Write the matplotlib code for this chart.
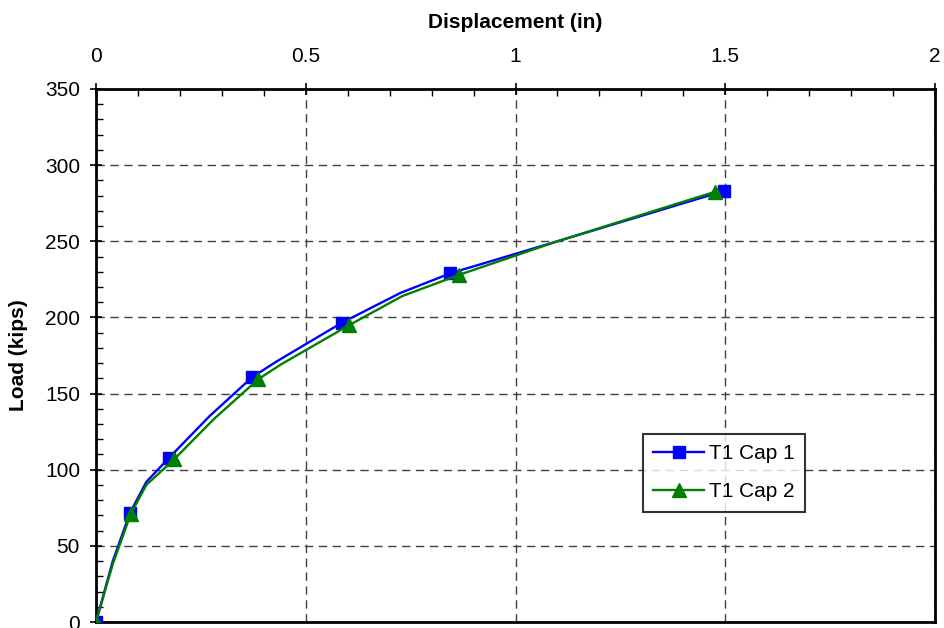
import matplotlib
matplotlib.use("Agg")
import matplotlib.pyplot as plt
from matplotlib.ticker import MultipleLocator

plt.rcParams['font.family'] = ['Liberation Sans', 'DejaVu Sans']

# Data (unmarked points are intermediate vertices of the curve)
cap1_x = [0, 0.04, 0.081, 0.12, 0.173, 0.27, 0.372, 0.43, 0.586, 0.725, 0.845, 1.10, 1.40, 1.497]
cap1_y = [0, 40, 71.6, 92, 107.5, 135, 160.7, 171, 196.5, 216, 229, 250, 275, 283]
cap2_x = [0, 0.04, 0.083, 0.12, 0.187, 0.28, 0.387, 0.44, 0.604, 0.73, 0.866, 1.10, 1.40, 1.476]
cap2_y = [0, 38, 71, 90, 107, 133, 159.5, 169, 195, 214, 228, 250, 276, 282.5]
marked = [0, 2, 4, 6, 8, 10, 13]
series_names = ["T1 Cap 1", "T1 Cap 2"]
x_ticks = [0, 0.5, 1, 1.5, 2]
x_ticklabels = ["0", "0.5", "1", "1.5", "2"]
y_ticks = [0, 50, 100, 150, 200, 250, 300, 350]

fig = plt.figure(figsize=(9.44, 6.28), dpi=100)
ax = fig.add_axes([96/944, 1-622/628, (935-96)/944, (622-89)/628])

ax.plot(cap1_x, cap1_y, color='#0000FF', lw=1.7, marker='s', markersize=8.5,
        markevery=marked, markerfacecolor='#0000FF', markeredgecolor='#0000FF',
        label=series_names[0], zorder=3)
ax.plot(cap2_x, cap2_y, color='#008000', lw=1.7, marker='^', markersize=10,
        markevery=marked, markerfacecolor='#008000', markeredgecolor='#008000',
        label=series_names[1], zorder=4)

ax.set_xlim(0, 2)
ax.set_ylim(0, 350)
ax.xaxis.tick_top()
ax.xaxis.set_label_position('top')
ax.set_xticks(x_ticks)
ax.set_xticklabels(x_ticklabels)
ax.set_yticks(y_ticks)
ax.xaxis.set_minor_locator(MultipleLocator(0.1))
ax.yaxis.set_minor_locator(MultipleLocator(10))

ax.tick_params(axis='both', which='major', direction='inout', length=9, width=1.2,
               labelsize=15, colors='black')
ax.tick_params(axis='both', which='minor', direction='in', length=5, width=1)
ax.tick_params(axis='x', which='both', top=True, bottom=False, pad=12)
ax.tick_params(axis='y', which='both', left=True, right=False, pad=7)

for side in ['top', 'left', 'bottom', 'right']:
    ax.spines[side].set_linewidth(2)

ax.grid(True, which='major', linestyle=(0, (6, 4)), color='#404040', linewidth=1)

ax.set_xlabel('Displacement (in)', fontsize=15, fontweight='bold', labelpad=14)
ax.set_ylabel('Load (kips)', fontsize=15, fontweight='bold', labelpad=12)

leg = ax.legend(loc='upper left', bbox_to_anchor=(0.6516, 0.3527), borderaxespad=0,
                fontsize=15, frameon=True, fancybox=False, edgecolor='black',
                handlelength=2.45, handletextpad=0.25, borderpad=0.5, labelspacing=0.9)
leg.get_frame().set_linewidth(1.5)

fig.savefig('out.png', dpi=100)
